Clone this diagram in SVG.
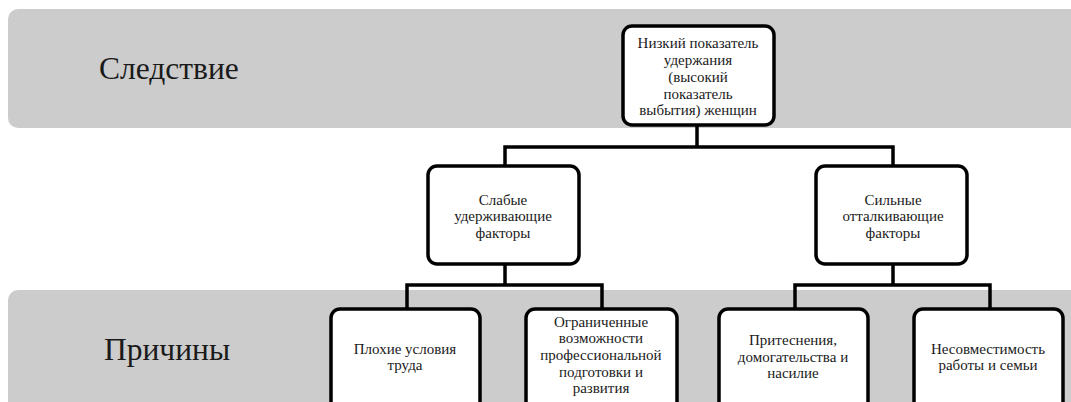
<svg xmlns="http://www.w3.org/2000/svg" width="1071" height="402" viewBox="0 0 1071 402">
<style>
.band{fill:#cccccc}
.node{fill:#ffffff;stroke:#000;stroke-width:3.5}
.t{font-family:'Liberation Serif','DejaVu Serif',serif;font-size:15px;fill:#1a1a1a;text-anchor:middle}
.big{font-family:'Liberation Serif','DejaVu Serif',serif;font-size:31.5px;fill:#1a1a1a}
.c{fill:none;stroke:#000;stroke-width:3.5}
</style>
<g id="band-top"><rect class="band" x="8" y="9" width="1080" height="119" rx="10"/><text class="big" x="99" y="79">Следствие</text></g>
<g id="band-bottom"><rect class="band" x="8" y="290" width="1080" height="130" rx="10"/><text class="big" x="104" y="360">Причины</text></g>
<g id="connectors">
<path class="c" d="M697 125V147M505 165V147H893V165"/>
<path class="c" d="M505 265V285M407 308V285H602V308"/>
<path class="c" d="M893 265V285M795 308V285H990V308"/>
</g>
<g id="n-top"><rect class="node" x="623" y="26" width="151" height="99" rx="9"/>
<text class="t"><tspan x="698" y="48">Низкий показатель</tspan><tspan x="698" y="65">удержания</tspan><tspan x="698" y="82">(высокий</tspan><tspan x="698" y="99">показатель</tspan><tspan x="698" y="115">выбытия) женщин</tspan></text></g>
<g id="n-weak"><rect class="node" x="428" y="166" width="151" height="98" rx="9"/>
<text class="t"><tspan x="503" y="205">Слабые</tspan><tspan x="503" y="221">удерживающие</tspan><tspan x="503" y="238">факторы</tspan></text></g>
<g id="n-strong"><rect class="node" x="816" y="166" width="151" height="98" rx="9"/>
<text class="t"><tspan x="893" y="205">Сильные</tspan><tspan x="893" y="221">отталкивающие</tspan><tspan x="893" y="238">факторы</tspan></text></g>
<g id="n-bad"><rect class="node" x="331" y="309" width="149" height="110" rx="9"/>
<text class="t"><tspan x="405" y="354">Плохие условия</tspan><tspan x="405" y="370">труда</tspan></text></g>
<g id="n-limited"><rect class="node" x="526" y="309" width="151" height="110" rx="9"/>
<text class="t"><tspan x="601" y="327">Ограниченные</tspan><tspan x="601" y="343">возможности</tspan><tspan x="601" y="360">профессиональной</tspan><tspan x="601" y="377">подготовки и</tspan><tspan x="601" y="393">развития</tspan></text></g>
<g id="n-harass"><rect class="node" x="719" y="309" width="149" height="110" rx="9"/>
<text class="t"><tspan x="793" y="345">Притеснения,</tspan><tspan x="793" y="362">домогательства и</tspan><tspan x="793" y="378">насилие</tspan></text></g>
<g id="n-family"><rect class="node" x="914" y="309" width="149" height="110" rx="9"/>
<text class="t"><tspan x="988" y="354">Несовместимость</tspan><tspan x="988" y="370">работы и семьи</tspan></text></g>
</svg>
